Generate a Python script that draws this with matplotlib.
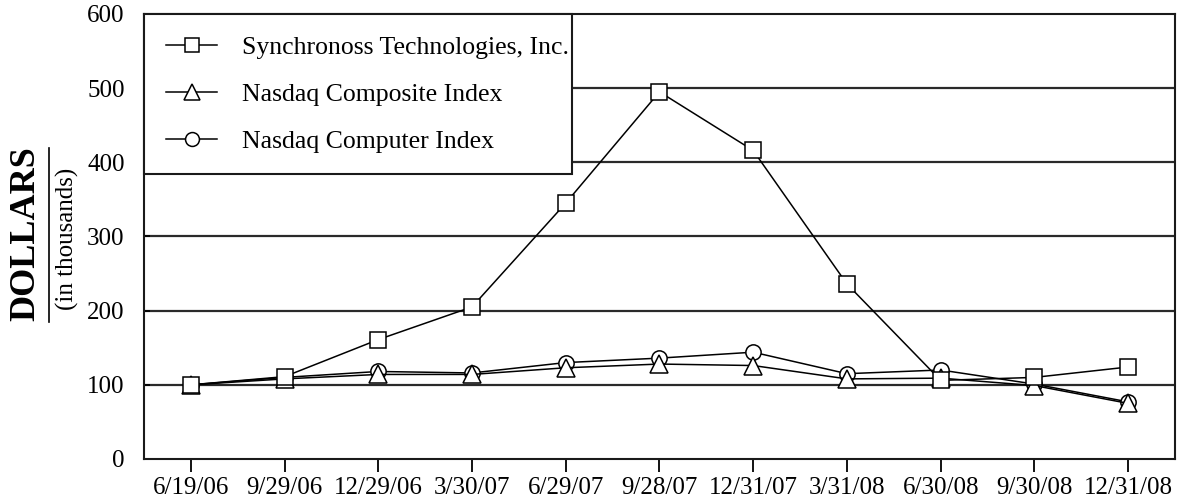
import matplotlib
matplotlib.use("Agg")
import matplotlib.pyplot as plt
from matplotlib.lines import Line2D
from matplotlib.patches import Rectangle

plt.rcParams["font.family"] = ["Liberation Serif", "DejaVu Serif"]

# data (value of $100 investment)
dates = ["6/19/06", "9/29/06", "12/29/06", "3/30/07", "6/29/07", "9/28/07",
         "12/31/07", "3/31/08", "6/30/08", "9/30/08", "12/31/08"]
synchronoss = [100, 111, 161, 205, 345, 495, 416, 236, 106, 110, 124]
nasdaq_composite = [100, 108, 114, 114, 123, 128, 126, 108, 109, 99, 75]
nasdaq_computer = [100, 110, 118, 116, 130, 136, 144, 115, 120, 101, 77]
y_ticks = [0, 100, 200, 300, 400, 500, 600]

fig = plt.figure(figsize=(11.83, 5.03), dpi=100)
ax = fig.add_axes([0.1217, 0.0875, 0.8715, 0.8847])

x = list(range(len(dates)))

for y in y_ticks[1:-1]:
    ax.axhline(y, color="#2a2a2a", lw=1.6, zorder=1)

common = dict(color="black", lw=1.1, markerfacecolor="white",
              markeredgecolor="black", markeredgewidth=1.1, zorder=3)
l_comp, = ax.plot(x, nasdaq_computer, marker="o", markersize=11, **common)
l_cmp, = ax.plot(x, nasdaq_composite, marker="^", markersize=13, **common)
l_syn, = ax.plot(x, synchronoss, marker="s", markersize=11.5, **common)

ax.set_xlim(-0.5, len(dates) - 0.5)
ax.set_ylim(0, 600)
ax.set_yticks(y_ticks)
ax.set_xticks(x)
ax.set_xticklabels(dates)
ax.tick_params(axis="x", direction="out", length=9, width=1.3, pad=4,
               labelsize=18, colors="black")
ax.tick_params(axis="y", direction="in", length=4, width=1.3, pad=14,
               labelsize=18)
for s in ax.spines.values():
    s.set_linewidth(1.5)
    s.set_color("#1a1a1a")

# legend box (drawn by hand: the text nearly touches its right edge)
ax.add_patch(Rectangle((0, 0.6404), 0.415, 0.3596, transform=ax.transAxes,
                       facecolor="white", edgecolor="#1a1a1a", lw=1.5,
                       zorder=4, clip_on=False))

h = [Line2D([], [], color="black", lw=1.1, marker="s", markersize=10,
            markerfacecolor="white", markeredgewidth=1.1),
     Line2D([], [], color="black", lw=1.1, marker="^", markersize=12,
            markerfacecolor="white", markeredgewidth=1.1),
     Line2D([], [], color="black", lw=1.1, marker="o", markersize=10,
            markerfacecolor="white", markeredgewidth=1.1)]
leg = ax.legend(h, ["Synchronoss Technologies, Inc.", "Nasdaq Composite Index",
                    "Nasdaq Computer Index"],
                loc="upper left", bbox_to_anchor=(0, 1), borderaxespad=0,
                fontsize=18.5, frameon=False, handlelength=2.0,
                handletextpad=0.97, labelspacing=0.93, borderpad=0.85)
leg.set_zorder(5)

# y label: bold "DOLLARS", underline, "(in thousands)"
fig.text(0.022, 0.535, "DOLLARS", rotation=90, ha="center", va="center",
         fontsize=26, fontweight="bold")
fig.add_artist(Line2D([0.0415, 0.0415], [1 - 322 / 503, 1 - 148 / 503],
                      transform=fig.transFigure, color="black", lw=1.2))
fig.text(0.057, 0.525, "(in thousands)", rotation=90, ha="center", va="center",
         fontsize=18)

fig.savefig("out.png", dpi=100)
